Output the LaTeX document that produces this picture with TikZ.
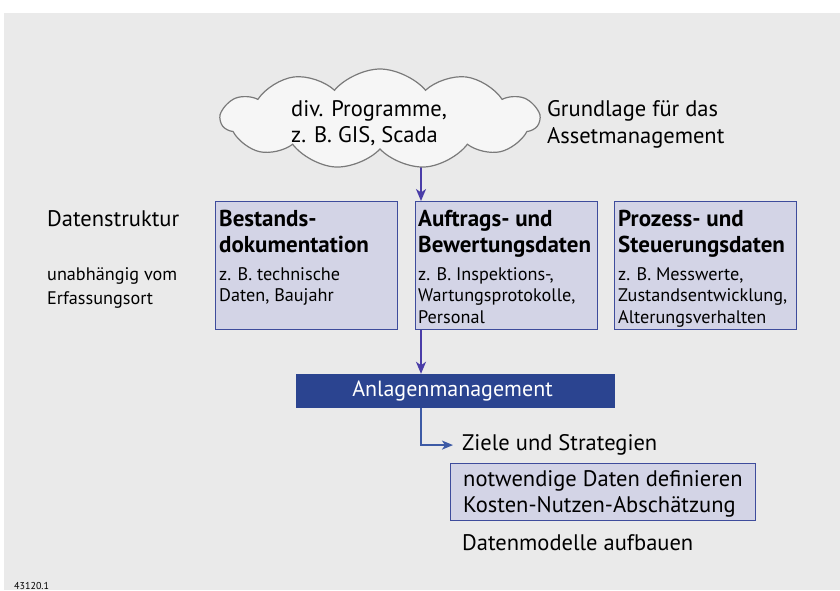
\documentclass[tikz,border=0pt]{standalone}
\usepackage{fontspec}
\setmainfont{PT Sans}
\usetikzlibrary{shapes.symbols,arrows.meta,calc}

\definecolor{bggray}{HTML}{EAEAEA}
\definecolor{boxfill}{HTML}{D3D4E6}
\definecolor{boxline}{HTML}{3E4C9C}
\definecolor{barfill}{HTML}{2B4490}
\definecolor{arrowpurple}{HTML}{4A3DA8}
\definecolor{arrowblue}{HTML}{3D5AA5}
\definecolor{cloudfill}{HTML}{F6F6F6}
\definecolor{cloudline}{HTML}{7A7A7A}

% multi-line nodes are placed by the baseline of their last line
\tikzset{
  databox/.style={draw=boxline, fill=boxfill, line width=1.2pt, inner sep=0pt,
    anchor=north west},
  label/.style={inner sep=0pt, anchor=base west, align=left,
    font=\fontsize{22.5}{26.5}\selectfont},
  headtxt/.style={inner sep=0pt, anchor=base west, align=left,
    font=\fontsize{23}{26}\selectfont\bfseries},
  bodytxt/.style={inner sep=0pt, anchor=base west, align=left,
    font=\fontsize{18.2}{21.5}\selectfont},
  flow/.style={draw=arrowpurple, line width=1.8pt,
    -{Stealth[length=12pt,width=10pt,inset=3.5pt]}},
  elbow/.style={draw=arrowblue, line width=1.8pt,
    -{Stealth[length=11pt,width=9pt,inset=3pt]}},
}

\begin{document}
\begin{tikzpicture}[x=1pt,y=-1pt]
\useasboundingbox (0,0) rectangle (840,590);
\fill[white] (0,0) rectangle (840,590);
\fill[bggray] (4,13) rectangle (840,590);

% side labels
\node[label] (ds) at (47,226) {Datenstruktur};
\node[bodytxt, font=\fontsize{18.2}{24}\selectfont] (ds2) at (47,304) {unabhängig vom\\Erfassungsort};

% the three data boxes
\node[databox, minimum width=182pt, minimum height=128pt] (b1) at (215,201) {};
\node[databox, minimum width=182pt, minimum height=128pt] (b2) at (415,201) {};
\node[databox, minimum width=182pt, minimum height=128pt] (b3) at (614,201) {};

\node[headtxt] (b1h) at ($(b1.north west)+(4,51)$) {Bestands-\\dokumentation};
\node[bodytxt] (b1b) at ($(b1.north west)+(4,100.5)$) {z. B. technische\\Daten, Baujahr};
\node[headtxt] (b2h) at ($(b2.north west)+(3,51)$) {Auftrags- und\\Bewertungsdaten};
\node[bodytxt] (b2b) at ($(b2.north west)+(3,122)$) {z. B. Inspektions-,\\Wartungsprotokolle,\\Personal};
\node[headtxt] (b3h) at ($(b3.north west)+(4,51)$) {Prozess- und\\Steuerungsdaten};
\node[bodytxt] (b3b) at ($(b3.north west)+(4,122)$) {z. B. Messwerte,\\Zustandsentwicklung,\\Alterungsverhalten};

% arrow out of the cloud (its start is hidden by the cloud)
\coordinate (cloudexit) at (421,140);
\draw[flow] (cloudexit) -- (cloudexit |- b2.north);

% cloud of programs
\node[cloud, cloud puffs=11, cloud puff arc=100, aspect=3.2,
      minimum width=318pt, minimum height=100pt,
      draw=cloudline, fill=cloudfill, line width=1.2pt] (cloud) at (380,119) {};
\node[label] (cloudtxt) at (291,142.7) {div. Programme,\\z. B. GIS, Scada};
\node[label] (basis) at (547,143) {Grundlage für das\\Assetmanagement};

% asset management bar
\node[fill=barfill, minimum width=319pt, minimum height=34pt, inner sep=0pt,
      text=white, font=\fontsize{22}{24}\selectfont] (bar) at (455.5,391) {Anlagenmanagement\hspace*{6pt}};
\coordinate (b2out) at ($(b2.south west)+(6,0)$);
\draw[flow] (b2out) -- (b2out |- bar.north);

% goals and tasks
\node[label] (ziele) at (462,450.7) {Ziele und Strategien};
\coordinate (barout) at ($(bar.south west)+(125,0)$);
\draw[elbow] (barout) |- ([xshift=-9pt]ziele.west);

\node[databox, line width=1pt, minimum width=305pt, minimum height=57pt] (nb) at (450,463) {};
\node[label] (nbt) at ($(nb.north west)+(13,49.7)$) {notwendige Daten definieren\\Kosten-Nutzen-Abschätzung};
\node[label] (dm) at (462,550.7) {Datenmodelle aufbauen};

\node[inner sep=0pt, anchor=base west, font=\fontsize{10}{12}\selectfont] (num) at (14,589.5) {43120.1};
\end{tikzpicture}
\end{document}
